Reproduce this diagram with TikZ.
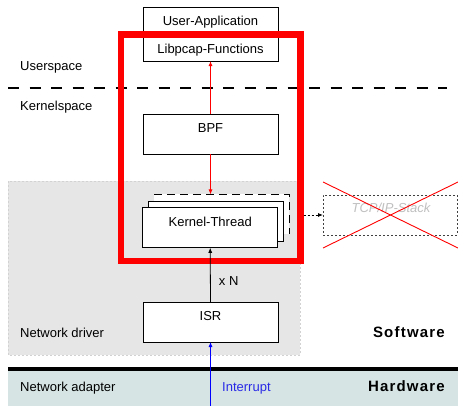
\documentclass[tikz,border=0pt]{standalone}
\usepackage{fontspec}
\setmainfont{Liberation Sans}
\newfontfamily\hwfont{Liberation Sans}[LetterSpace=8]
\usetikzlibrary{arrows.meta}
\definecolor{drvgray}{HTML}{E6E6E6}
\definecolor{drvborder}{HTML}{D2D2D2}
\definecolor{hwfill}{HTML}{D6E4E4}
\definecolor{tcpgray}{HTML}{C0C0C0}
\definecolor{pure red}{HTML}{FF0000}
\definecolor{intblue}{HTML}{2A2AE6}
\begin{document}
\begin{tikzpicture}[x=1pt,y=-1pt,
  every node/.style={font=\fontsize{13}{15}\selectfont},
  box/.style={draw, line width=0.8pt, fill=white, minimum width=135pt,
    minimum height=40pt, inner sep=0pt, outer sep=0pt},
  boxtext/.style={label={[anchor=base, inner sep=0pt, yshift=-18.5pt]north:#1}},
  txt/.style={inner sep=0pt, anchor=base west},
  tip/.style={-{Latex[length=5pt,width=4pt]}},
  redarrow/.style={tip, draw=pure red, fill=pure red, line width=0.8pt},
  blackarrow/.style={tip, draw=black, line width=0.8pt},
]
\useasboundingbox (0,0) rectangle (458,406);
% background regions
\fill[white] (0,0) rectangle (458,406);
\draw[fill=drvgray, draw=drvborder, line width=0.8pt, dash pattern=on 2pt off 2pt]
  (8,181) rectangle (300,355);
\fill[hwfill] (8,371) rectangle (458,406);
\draw[line width=4pt] (8,369) -- (458,369);
% user/kernel separator
\draw[line width=2pt, dash pattern=on 11pt off 10.5pt] (8,88) -- (447,88);
\node[txt] (us) at (20,71) {Userspace};
\node[txt] (ks) at (20,111) {Kernelspace};
\node[txt] (nd) at (20,337.7) {Network driver};
\node[txt] (na) at (20,391.5) {Network adapter};
\node[inner sep=0pt, anchor=base east, font=\hwfont\bfseries\fontsize{15}{17}\selectfont] (sw) at (445,337.7) {Software};
\node[inner sep=0pt, anchor=base east, font=\hwfont\bfseries\fontsize{15}{17}\selectfont] (hw) at (445,391) {Hardware};
% boxes
\node[box, minimum height=53.7pt] (app) at (210.5,34.2) {};
\node[txt, anchor=base] (apptxt) at (210.5,25.5) {User-Application};
\node[txt, anchor=base] (libtxt) at (210.5,53.3) {Libpcap-Functions};
\node[box, boxtext=BPF] (bpf) at (210.5,134.5) {};
% kernel thread stack
\node[box, draw=none] (kt3) at (221.8,214.5) {};
\draw[line width=0.8pt, dash pattern=on 8pt off 5pt] (kt3.north west) -- (kt3.north east) -- (kt3.south east);
\node[box] (kt2) at (216.2,221.7) {};
\node[box, boxtext=Kernel-Thread] (kt) at (210.2,227.8) {};
\node[box, boxtext=ISR] (isr) at (210.5,322) {};
% red frame
\node[draw=pure red, line width=6.5pt, minimum width=179.3pt, minimum height=226.1pt,
  inner sep=0pt, outer sep=3.25pt] (frame) at (210.65,147.75) {};
% TCP/IP stack (crossed out)
\node[draw=black!75, line width=0.8pt, dash pattern=on 2pt off 2pt, minimum width=134pt,
  minimum height=40pt, inner sep=0pt, outer sep=0pt] (tcp) at (390,215) {};
\node[inner sep=0pt, anchor=base, text=tcpgray, font=\itshape\fontsize{13}{15}\selectfont] (tcptxt) at (391,212.7) {TCP/IP-Stack};
\draw[pure red, line width=0.9pt] (323,182) -- (458,248);
\draw[pure red, line width=0.9pt] (323,248) -- (458,182);
% connectors
\draw[redarrow] (bpf.north) -- (app.south);
\draw[redarrow] (bpf.south) -- (bpf.south |- kt3.north);
\draw[blackarrow] (isr.north) -- (kt.south);
\node[txt] (xn) at (218.7,286) {x N};
\coordinate (intstart) at (210.5,406);
\draw[tip, draw=blue, fill=blue, line width=0.8pt] (intstart) -- (isr.south);
\node[txt, text=intblue] (intr) at (222,391.5) {Interrupt};
\draw[tip, line width=0.8pt, dash pattern=on 2pt off 2pt] (frame.east |- tcp.west) -- (tcp.west);
\end{tikzpicture}
\end{document}
